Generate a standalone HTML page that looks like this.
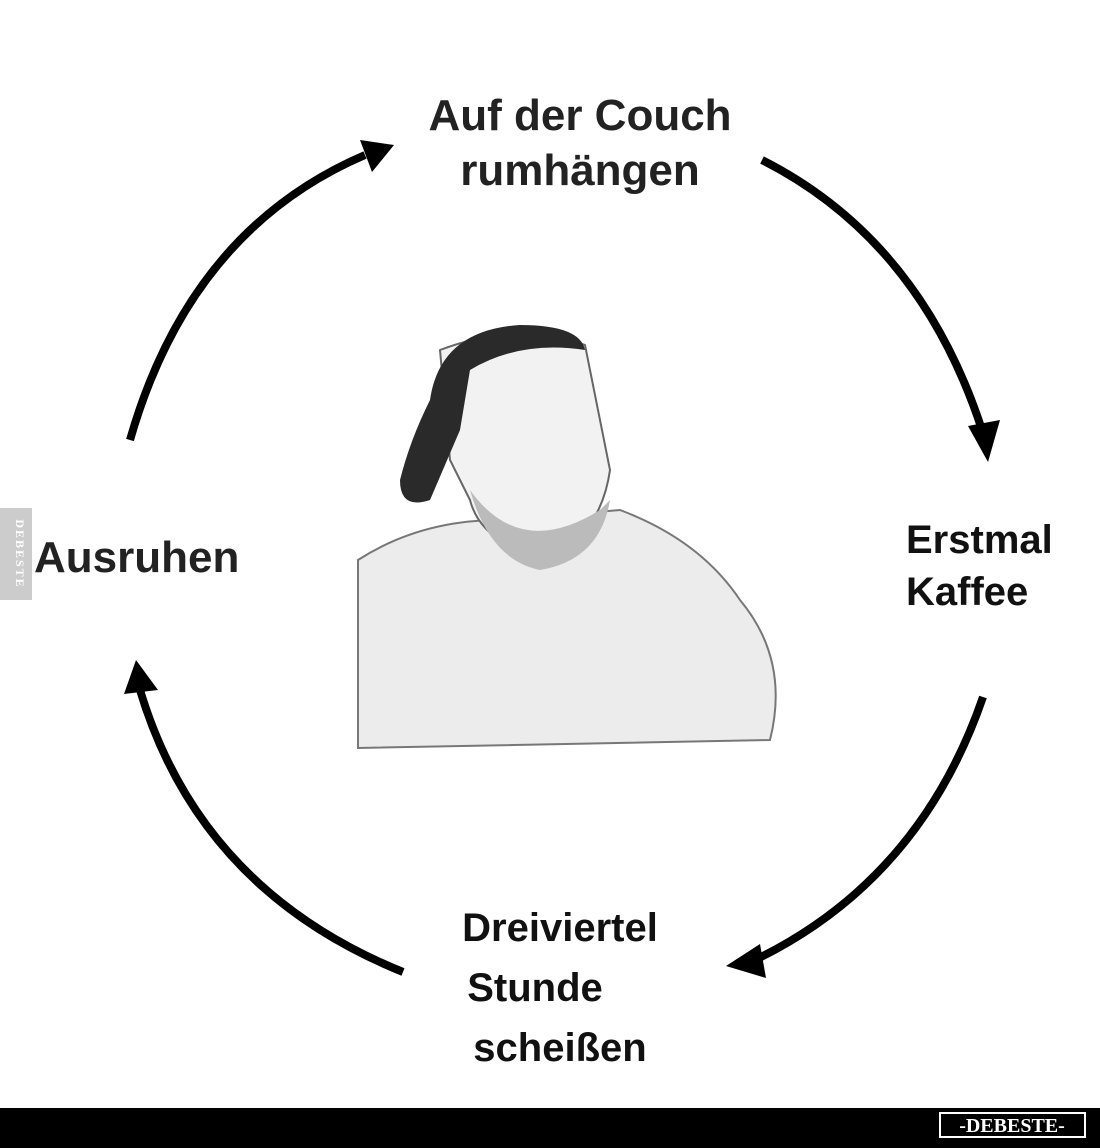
<!DOCTYPE html>
<html><head><meta charset="utf-8"><style>
html,body{margin:0;padding:0;background:#fff}
body{width:1100px;height:1148px;position:relative;overflow:hidden;font-family:"Liberation Sans",sans-serif}
.t{position:absolute;font-weight:bold;color:#111;line-height:1.25}
</style></head><body>
<svg width="1100" height="1148" style="position:absolute;left:0;top:0">
<defs><marker id="a" markerWidth="10" markerHeight="10" refX="5" refY="5" orient="auto" markerUnits="userSpaceOnUse" viewBox="0 0 10 10"><path d="M0,0 L10,5 L0,10 Z" fill="#000"/></marker></defs>
<g fill="none" stroke="#000" stroke-width="8">
<path d="M762,160 Q920,240 982,430"/>
<path d="M983,697 Q920,880 755,960"/>
<path d="M403,972 Q200,890 140,690"/>
<path d="M130,440 Q190,230 365,155"/>
</g>
<g fill="#000">
<path d="M968,426 L1000,420 L988,462 Z"/>
<path d="M760,944 L766,978 L726,966 Z"/>
<path d="M124,694 L158,690 L136,660 Z"/>
<path d="M360,140 L372,172 L394,145 Z"/>
</g>
<!-- figure -->
<rect x="358" y="320" width="424" height="428" fill="#fff"/>
<path d="M358,560 Q420,520 500,520 L620,510 Q700,540 740,600 Q790,660 770,740 L358,748 Z" fill="#ececec" stroke="#777" stroke-width="2"/>
<path d="M440,350 Q520,320 585,345 L610,470 Q600,540 540,560 Q480,540 470,500 L450,460 Z" fill="#f2f2f2" stroke="#666" stroke-width="2"/>
<path d="M430,400 Q440,330 520,325 Q580,325 585,350 Q520,340 470,370 L460,430 L430,500 Q400,510 400,480 Q410,440 430,400 Z" fill="#2a2a2a"/>
<path d="M470,490 Q520,560 600,510 L610,500 Q600,560 540,570 Q490,560 470,490 Z" fill="#bbb"/>
<rect x="0" y="508" width="32" height="92" fill="#ccc"/>
<text x="16" y="554" fill="#fff" font-family="Liberation Serif" font-weight="bold" font-size="12" text-anchor="middle" transform="rotate(90 16 554)" letter-spacing="2">DEBESTE</text>
<rect x="0" y="1108" width="1100" height="40" fill="#000"/>
<rect x="940" y="1113" width="145" height="24" fill="none" stroke="#fff" stroke-width="2"/>
<text x="1012" y="1132" fill="#fff" font-family="Liberation Serif" font-weight="bold" font-size="20" text-anchor="middle">-DEBESTE-</text>
</svg>
<div class="t" style="left:400px;top:88px;width:360px;text-align:center;font-size:44px;color:#222">Auf der Couch<br>rumhängen</div>
<div class="t" style="left:34px;top:530px;font-size:44px;color:#222">Ausruhen</div>
<div class="t" style="left:906px;top:514px;font-size:40px;line-height:1.3">Erstmal<br>Kaffee</div>
<div class="t" style="left:440px;top:898px;width:240px;text-align:center;font-size:40px;line-height:1.5">Dreiviertel<br><span style="margin-left:-50px">Stunde</span><br>scheißen</div>
</body></html>
